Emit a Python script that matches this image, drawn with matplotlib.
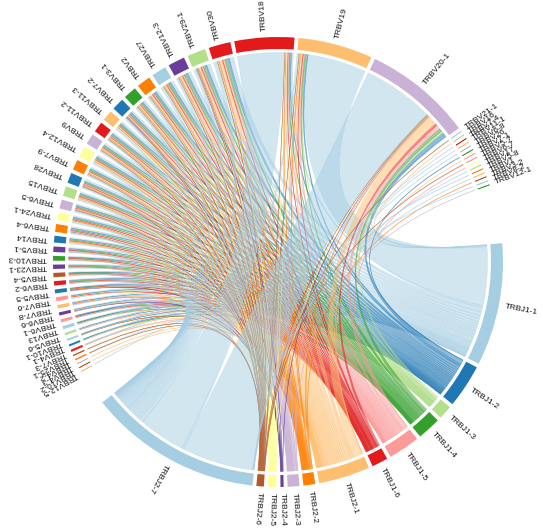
import numpy as np
import matplotlib
matplotlib.use("Agg")
import matplotlib.pyplot as plt
from matplotlib.patches import Wedge, PathPatch
from matplotlib.path import Path

# ---------------- data ----------------
j_genes = ["TRBJ1-1", "TRBJ1-2", "TRBJ1-3", "TRBJ1-4", "TRBJ1-5", "TRBJ1-6",
           "TRBJ2-1", "TRBJ2-2", "TRBJ2-3", "TRBJ2-4", "TRBJ2-5", "TRBJ2-6", "TRBJ2-7"]
j_colors = ["#a6cee3", "#1f78b4", "#b2df8a", "#33a02c", "#fb9a99", "#e31a1c",
            "#fdbf6f", "#ff7f00", "#cab2d6", "#6a3d9a", "#ffff99", "#b15928", "#a6cee3"]

# V genes in clockwise order (starting lower-left, ending right of TRBV20-1)
v_genes = ["TRBV12-5", "TRBV10-2", "TRBV4-3", "TRBV4-2", "TRBV25-1", "TRBV7-3", "TRBV4-1",
           "TRBV10-1", "TRBV5-6", "TRBV13", "TRBV6-1", "TRBV6-6", "TRBV7-8", "TRBV7-6",
           "TRBV5-5", "TRBV6-2", "TRBV5-4", "TRBV23-1", "TRBV10-3", "TRBV5-1", "TRBV14",
           "TRBV6-4", "TRBV24-1", "TRBV6-5", "TRBV15", "TRBV28", "TRBV7-9", "TRBV12-4",
           "TRBV9", "TRBV11-2", "TRBV11-3", "TRBV7-2", "TRBV3-1", "TRBV2", "TRBV27",
           "TRBV12-3", "TRBV29-1", "TRBV30", "TRBV18", "TRBV19", "TRBV20-1",
           "TRBV21-1", "TRBV16", "TRBV7-4", "TRBV11-1", "TRBV6-8", "TRBV26", "TRBV7-1",
           "TRBV5-7", "TRBV6-7", "TRBV17", "TRBV5-8", "TRBV1", "TRBV3-2", "TRBV8-2", "TRBV12-1"]
v_colors = ["#fdbf6f", "#b15928", "#cab2d6", "#ff7f00", "#b15928", "#e31a1c", "#1f78b4",
            "#a6cee3", "#b2df8a", "#a6cee3", "#fb9a99", "#6a3d9a", "#fdbf6f", "#fb9a99",
            "#1f78b4", "#e31a1c", "#b15928", "#6a3d9a", "#33a02c", "#6a3d9a", "#1f78b4",
            "#ff7f00", "#ffff99", "#cab2d6", "#b2df8a", "#1f78b4", "#ff7f00", "#ffff99",
            "#cab2d6", "#e31a1c", "#fdbf6f", "#1f78b4", "#33a02c", "#ff7f00", "#a6cee3",
            "#6a3d9a", "#b2df8a", "#e31a1c", "#e31a1c", "#fdbf6f", "#cab2d6",
            "#a6cee3", "#b2df8a", "#e31a1c", "#fdbf6f", "#cab2d6", "#33a02c", "#fb9a99",
            "#fb9a99", "#ffff99", "#b2df8a", "#ff7f00", "#fdbf6f", "#b15928", "#a6cee3", "#33a02c"]

# clone counts: rows follow v_genes, columns follow j_genes
vj_counts = [
    [0, 0, 0, 0, 0, 0, 0, 0, 0, 0, 0, 0, 1],
    [0, 0, 0, 0, 0, 0, 1, 0, 0, 0, 0, 0, 0],
    [0, 0, 0, 0, 0, 0, 1, 0, 0, 0, 0, 0, 0],
    [1, 0, 0, 0, 0, 0, 0, 0, 0, 0, 0, 1, 0],
    [0, 0, 0, 0, 0, 0, 1, 0, 0, 0, 0, 1, 0],
    [1, 0, 0, 0, 1, 0, 1, 0, 0, 0, 0, 0, 1],
    [1, 1, 0, 1, 0, 0, 1, 0, 0, 0, 0, 0, 1],
    [1, 1, 0, 0, 0, 0, 1, 0, 0, 0, 0, 1, 1],
    [2, 1, 0, 0, 1, 0, 1, 0, 0, 0, 0, 0, 1],
    [2, 1, 0, 1, 0, 0, 1, 0, 0, 1, 1, 0, 1],
    [1, 2, 0, 1, 0, 1, 1, 0, 1, 0, 0, 0, 1],
    [2, 1, 1, 0, 1, 0, 1, 0, 0, 1, 0, 0, 1],
    [2, 1, 0, 0, 1, 0, 1, 1, 1, 0, 0, 0, 2],
    [2, 2, 1, 0, 1, 1, 1, 0, 0, 0, 1, 0, 1],
    [2, 1, 0, 1, 1, 1, 1, 1, 0, 1, 0, 0, 1],
    [2, 2, 1, 1, 1, 1, 1, 0, 1, 0, 0, 0, 1],
    [2, 1, 0, 1, 1, 1, 1, 1, 1, 0, 0, 0, 2],
    [2, 2, 1, 1, 1, 1, 1, 0, 0, 0, 0, 0, 2],
    [2, 2, 0, 1, 1, 1, 2, 1, 0, 0, 0, 0, 2],
    [3, 2, 1, 1, 1, 1, 2, 0, 1, 0, 0, 0, 2],
    [3, 2, 1, 1, 2, 1, 2, 1, 0, 0, 1, 0, 3],
    [4, 3, 1, 1, 2, 1, 2, 0, 1, 1, 1, 0, 3],
    [4, 3, 1, 1, 2, 1, 2, 1, 1, 0, 1, 0, 3],
    [4, 3, 1, 2, 2, 1, 3, 1, 1, 1, 1, 0, 3],
    [5, 3, 1, 2, 2, 2, 3, 1, 1, 0, 1, 0, 4],
    [6, 3, 1, 2, 3, 1, 3, 1, 1, 0, 0, 1, 4],
    [5, 3, 1, 2, 2, 1, 4, 1, 1, 0, 1, 1, 4],
    [6, 4, 1, 2, 2, 1, 4, 1, 1, 0, 1, 0, 5],
    [6, 3, 1, 2, 2, 1, 4, 1, 1, 0, 1, 1, 4],
    [5, 4, 1, 2, 3, 1, 4, 1, 1, 0, 1, 1, 3],
    [6, 3, 1, 2, 2, 1, 4, 1, 1, 0, 1, 0, 5],
    [6, 4, 1, 2, 3, 1, 4, 1, 1, 1, 1, 1, 5],
    [7, 4, 1, 2, 3, 1, 5, 1, 1, 0, 1, 1, 6],
    [7, 5, 1, 2, 3, 2, 5, 1, 1, 0, 1, 1, 6],
    [8, 5, 1, 3, 3, 2, 5, 1, 1, 0, 1, 1, 7],
    [9, 6, 2, 3, 4, 2, 6, 1, 2, 0, 1, 1, 6],
    [10, 6, 2, 3, 4, 2, 6, 2, 2, 1, 1, 1, 7],
    [12, 7, 2, 4, 5, 2, 8, 2, 2, 0, 1, 1, 10],
    [5, 3, 1, 2, 3, 1, 5, 1, 1, 0, 1, 1, 128],
    [160, 4, 2, 3, 4, 2, 5, 2, 1, 0, 1, 1, 5],
    [3, 12, 6, 8, 12, 6, 25, 3, 2, 1, 1, 1, 195],
    [0, 0, 0, 0, 0, 0, 0, 0, 0, 0, 0, 1, 0],
    [0, 0, 0, 0, 0, 0, 1, 0, 0, 0, 0, 0, 0],
    [0, 0, 0, 0, 0, 0, 0, 0, 0, 0, 0, 0, 1],
    [1, 0, 0, 0, 0, 0, 0, 0, 0, 0, 0, 0, 0],
    [0, 0, 0, 0, 0, 0, 0, 0, 0, 0, 0, 0, 1],
    [0, 1, 0, 0, 0, 0, 0, 0, 0, 0, 0, 0, 0],
    [0, 0, 0, 0, 0, 0, 1, 0, 0, 0, 0, 0, 0],
    [0, 0, 0, 0, 0, 0, 0, 0, 0, 0, 0, 1, 0],
    [0, 0, 0, 0, 1, 0, 0, 0, 0, 0, 0, 0, 0],
    [0, 0, 0, 0, 0, 0, 0, 0, 0, 0, 0, 0, 1],
    [1, 0, 0, 0, 0, 0, 0, 0, 0, 0, 0, 0, 0],
    [0, 0, 0, 0, 0, 0, 0, 0, 0, 0, 0, 0, 1],
    [0, 0, 0, 0, 0, 0, 0, 1, 0, 0, 0, 0, 0],
    [1, 0, 0, 0, 0, 0, 0, 0, 0, 0, 0, 0, 0],
    [0, 0, 0, 0, 0, 0, 0, 0, 1, 0, 0, 0, 0],
]

# ---------------- layout ----------------
W, H = 543, 531
cx, cy = 278.0, 269.0
R_OUT, RING_W = 225.0, 12.0
R_LINK = 209.5
R_LABEL = 231.0
START = 4.8          # CCW edge of TRBJ1-1
GAP = 1.0
GAP_J_TO_V = 9.5
GAP_V_TO_J = 15.2

M = np.array(vj_counts, dtype=float)
v_tot = M.sum(axis=1)
j_tot = M.sum(axis=0)
T = M.sum()

names = j_genes + v_genes
colors = j_colors + v_colors
values = list(j_tot) + list(v_tot)
N = len(names)
k = (360 - GAP_J_TO_V - GAP_V_TO_J - GAP * (N - 2)) / (2 * T)

hi_a, lo_a = [], []
ang = START
for i in range(N):
    hi = ang
    lo = ang - values[i] * k
    hi_a.append(hi)
    lo_a.append(lo)
    if i == len(j_genes) - 1:
        ang = lo - GAP_J_TO_V
    else:
        ang = lo - GAP
mid_a = [(h + l) / 2 for h, l in zip(hi_a, lo_a)]
nJ = len(j_genes)

# links per sector, ordered to avoid crossings
links = []
for vi in range(len(v_genes)):
    for ji in range(nJ):
        if M[vi, ji] > 0:
            links.append((nJ + vi, ji, M[vi, ji]))
pos = {}
for s in range(N):
    own = [(l_i, l) for l_i, l in enumerate(links) if l[0] == s or l[1] == s]

    def dist(item, s=s):
        l = item[1]
        other = l[1] if l[0] == s else l[0]
        return (mid_a[other] - mid_a[s]) % 360
    own.sort(key=dist)
    a = hi_a[s]
    for l_i, l in own:
        w = l[2] * k
        pos[(l_i, s)] = (a, a - w)
        a -= w

fig = plt.figure(figsize=(W / 100, H / 100), dpi=100)
ax = fig.add_axes([0, 0, 1, 1])
ax.set_xlim(0, W)
ax.set_ylim(0, H)
ax.axis("off")


def pt(r, deg):
    t = np.deg2rad(deg)
    return (cx + r * np.cos(t), cy + r * np.sin(t))


def arc(r, a1, a2):
    n = max(2, int(abs(a2 - a1) * 3) + 2)
    return [pt(r, a) for a in np.linspace(a1, a2, n)]

# chords (coloured by J gene)
for l_i, (vs, js, val) in enumerate(links):
    a_hi, a_lo = pos[(l_i, vs)]
    b_hi, b_lo = pos[(l_i, js)]
    verts, codes = [], []
    pa = arc(R_LINK, a_hi, a_lo)
    verts += pa
    codes += [Path.MOVETO] + [Path.LINETO] * (len(pa) - 1)
    verts += [(cx, cy), pt(R_LINK, b_hi)]
    codes += [Path.CURVE3, Path.CURVE3]
    pb = arc(R_LINK, b_hi, b_lo)[1:]
    verts += pb
    codes += [Path.LINETO] * len(pb)
    verts += [(cx, cy), pt(R_LINK, a_hi), pt(R_LINK, a_hi)]
    codes += [Path.CURVE3, Path.CURVE3, Path.CLOSEPOLY]
    patch = PathPatch(Path(verts, codes), facecolor=j_colors[js], alpha=0.5,
                      edgecolor=j_colors[js], lw=0.35)
    ax.add_patch(patch)

# ring sectors and labels
for s in range(N):
    ax.add_patch(Wedge((cx, cy), R_OUT, lo_a[s], hi_a[s], width=RING_W,
                       facecolor=colors[s], edgecolor=colors[s],
                       lw=0.4 if values[s] * k < 0.5 else 0))
    m = mid_a[s]
    x, y = pt(R_LABEL, m)
    ax.text(x, y, names[s], rotation=m % 360, rotation_mode="anchor",
            ha="left", va="center", fontsize=6, family="Liberation Sans",
            color="#111111")

fig.savefig("out.png", dpi=100, facecolor="white")
